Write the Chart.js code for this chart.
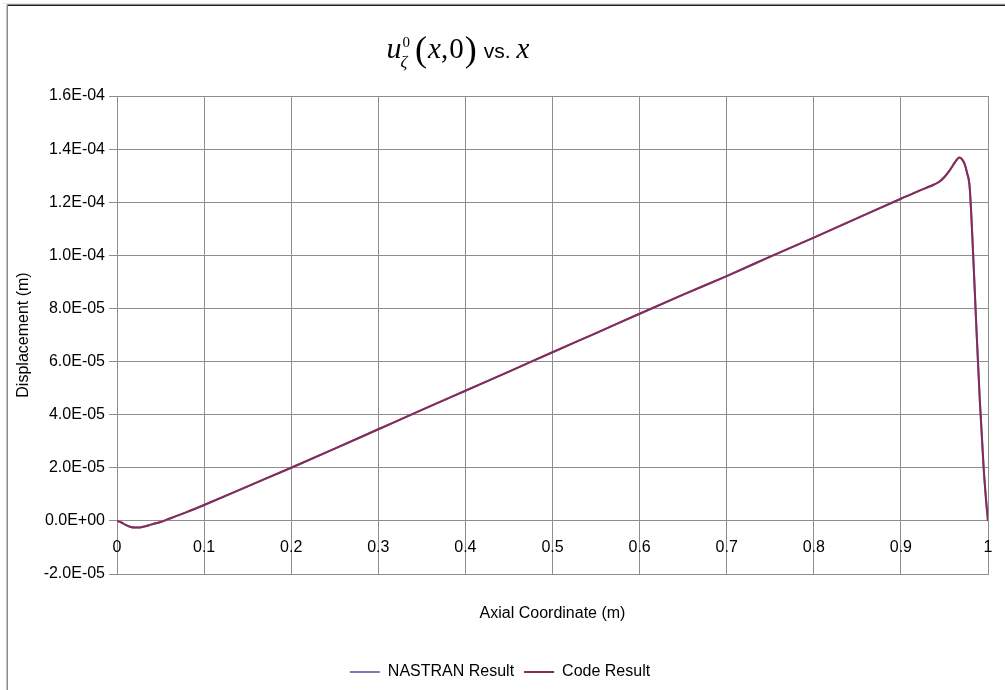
<!DOCTYPE html>
<html>
<head>
<meta charset="utf-8">
<title>Axial displacement</title>
<script src="https://cdn.jsdelivr.net/npm/chart.js@4.4.0/dist/chart.umd.min.js"></script>
<style>
  html, body { margin: 0; padding: 0; background: #fff; }
  #wrap { width: 1005px; height: 690px; position: relative; }
  canvas { display: block; }
</style>
</head>
<body>
<div id="wrap"><canvas id="chart" width="1005" height="690"></canvas></div>
<script>
// Axial coordinate along the member (m)
const axialCoord = [0, 0.005, 0.01, 0.015, 0.02, 0.025, 0.03, 0.04, 0.05, 0.06, 0.08, 0.1,
  0.15, 0.2, 0.25, 0.3, 0.35, 0.4, 0.45, 0.5, 0.55, 0.6, 0.65, 0.7, 0.75, 0.8, 0.85, 0.9,
  0.92, 0.935, 0.944, 0.95, 0.956, 0.963, 0.967, 0.97, 0.973, 0.976, 0.979, 0.983, 0.9865,
  0.9905, 0.995, 0.998, 1.0];

// Displacement u_zeta^0(x,0) in metres, NASTRAN finite-element solution
const nastranResult = [0, -0.06e-5, -0.15e-5, -0.22e-5, -0.25e-5, -0.25e-5, -0.22e-5, -0.13e-5,
  -0.04e-5, 0.08e-5, 0.33e-5, 0.6e-5, 1.3e-5, 2.0e-5, 2.72e-5, 3.45e-5, 4.18e-5, 4.9e-5,
  5.62e-5, 6.35e-5, 7.07e-5, 7.8e-5, 8.52e-5, 9.22e-5, 9.95e-5, 10.67e-5, 11.4e-5, 12.13e-5,
  12.42e-5, 12.62e-5, 12.77e-5, 12.95e-5, 13.2e-5, 13.55e-5, 13.68e-5, 13.62e-5, 13.45e-5,
  13.1e-5, 12.55e-5, 10.0e-5, 7.4e-5, 4.6e-5, 2.0e-5, 0.7e-5, 0];

// Displacement from the analysis code (m)
const codeResult = [0, -0.06e-5, -0.15e-5, -0.22e-5, -0.25e-5, -0.25e-5, -0.22e-5, -0.13e-5,
  -0.04e-5, 0.08e-5, 0.33e-5, 0.6e-5, 1.3e-5, 2.0e-5, 2.72e-5, 3.45e-5, 4.18e-5, 4.9e-5,
  5.62e-5, 6.35e-5, 7.07e-5, 7.8e-5, 8.52e-5, 9.22e-5, 9.95e-5, 10.67e-5, 11.4e-5, 12.13e-5,
  12.42e-5, 12.62e-5, 12.77e-5, 12.95e-5, 13.2e-5, 13.55e-5, 13.68e-5, 13.62e-5, 13.45e-5,
  13.1e-5, 12.55e-5, 10.0e-5, 7.4e-5, 4.6e-5, 2.0e-5, 0.7e-5, 0];

// Axis tick labels
const xTickLabels = ['0', '0.1', '0.2', '0.3', '0.4', '0.5', '0.6', '0.7', '0.8', '0.9', '1'];
const yRange = [-2e-5, 1.6e-4];
const yStep = 2e-5;

const SANS = '"Liberation Sans", Arial, sans-serif';
const SERIF = '"Liberation Serif", "Times New Roman", serif';
const GRID = '#8e8e8e';

function toPoints(xs, ys) {
  return xs.map((x, i) => ({ x: x, y: ys[i] }));
}

// Excel-style scientific label, e.g. 1.6E-04
function sciLabel(v) {
  if (Math.abs(v) < 1e-12) v = 0;
  const parts = v.toExponential(1).split('e');
  const n = parseInt(parts[1], 10);
  return parts[0] + 'E' + (n < 0 ? '-' : '+') + String(Math.abs(n)).padStart(2, '0');
}

// White page with the worksheet frame on the top and left edges
const framePlugin = {
  id: 'frame',
  beforeDraw(chart) {
    const ctx = chart.ctx;
    ctx.save();
    ctx.fillStyle = '#ffffff';
    ctx.fillRect(0, 0, chart.width, chart.height);
    ctx.fillStyle = '#e4e4e4';
    ctx.fillRect(3, 3, chart.width - 3, 1);
    ctx.fillStyle = '#1c1c1c';
    ctx.fillRect(7, 4.5, chart.width - 7, 1.5);
    ctx.fillStyle = '#8a8a8a';
    ctx.fillRect(6.5, 5, 1.5, chart.height - 5);
    ctx.restore();
  }
};

// X tick labels sit just below the zero line, where the category axis crosses
const xLabelPlugin = {
  id: 'xLabels',
  afterDraw(chart) {
    const xs = chart.scales.x, ys = chart.scales.y;
    const ctx = chart.ctx;
    const y0 = ys.getPixelForValue(0) + 27;
    ctx.save();
    ctx.font = '16px ' + SANS;
    ctx.fillStyle = '#000';
    ctx.textAlign = 'center';
    ctx.textBaseline = 'middle';
    xTickLabels.forEach(lbl => {
      ctx.fillText(lbl, xs.getPixelForValue(Number(lbl)), y0);
    });
    ctx.restore();
  }
};

// Title: u_ζ^0(x,0) vs. x
const titlePlugin = {
  id: 'mathTitle',
  afterDraw(chart) {
    const ctx = chart.ctx;
    const base = 58;
    const centerX = 458;
    const pieces = [
      { t: 'u', font: 'italic 30px ' + SERIF, dy: 0, gapAfter: 0 },
      { t: '0', font: '15px ' + SERIF, dy: -11, gapAfter: 0, sup: true },
      { t: 'ζ', font: 'italic 17px ' + SERIF, dy: 9, gapAfter: 5, sub: true },
      { t: '(', font: '36px ' + SERIF, dy: 3, gapAfter: 1 },
      { t: 'x', font: 'italic 29px ' + SERIF, dy: 0, gapAfter: 0 },
      { t: ',', font: '29px ' + SERIF, dy: 0, gapAfter: 1 },
      { t: '0', font: '29px ' + SERIF, dy: 0, gapAfter: 1 },
      { t: ')', font: '36px ' + SERIF, dy: 3, gapAfter: 7 },
      { t: 'vs.', font: '21px ' + SANS, dy: 0, gapAfter: 6 },
      { t: 'x', font: 'italic 29px ' + SERIF, dy: 0, gapAfter: 0 }
    ];
    ctx.save();
    let total = 0;
    const xs = [];
    let scriptStart = 0, scriptW = 0;
    pieces.forEach(p => {
      ctx.font = p.font;
      const w = ctx.measureText(p.t).width;
      if (p.sup) {
        scriptStart = total + 1;
        xs.push(scriptStart);
        scriptW = w;
      } else if (p.sub) {
        xs.push(scriptStart - 2);
        total = Math.max(scriptStart + scriptW, scriptStart - 2 + w) + p.gapAfter;
      } else {
        xs.push(total);
        total += w + p.gapAfter;
      }
    });
    const startX = centerX - total / 2;
    ctx.fillStyle = '#000';
    ctx.textBaseline = 'alphabetic';
    ctx.textAlign = 'left';
    pieces.forEach((p, i) => {
      ctx.font = p.font;
      ctx.fillText(p.t, startX + xs[i], base + p.dy);
    });
    ctx.restore();
  }
};

const ctx = document.getElementById('chart').getContext('2d');
new Chart(ctx, {
  type: 'line',
  data: {
    datasets: [
      {
        label: 'NASTRAN Result',
        data: toPoints(axialCoord, nastranResult),
        borderColor: '#7e7cb8',
        backgroundColor: '#7e7cb8',
        borderWidth: 2,
        pointRadius: 0,
        cubicInterpolationMode: 'monotone',
        fill: false,
        order: 1
      },
      {
        label: 'Code Result',
        data: toPoints(axialCoord, codeResult),
        borderColor: '#862a5a',
        backgroundColor: '#862a5a',
        borderWidth: 2,
        pointRadius: 0,
        cubicInterpolationMode: 'monotone',
        fill: false,
        order: 0
      }
    ]
  },
  options: {
    responsive: false,
    animation: false,
    devicePixelRatio: 1,
    events: [],
    layout: { padding: { left: 12, right: 17, top: 96, bottom: 0 } },
    plugins: {
      title: { display: false },
      tooltip: { enabled: false },
      legend: {
        display: true,
        position: 'bottom',
        labels: {
          font: { family: SANS, size: 16 },
          color: '#000',
          boxWidth: 30,
          boxHeight: 2,
          padding: 10,
          sort: (a, b) => a.datasetIndex - b.datasetIndex,
          generateLabels: chart =>
            Chart.defaults.plugins.legend.labels.generateLabels(chart)
              .map(l => Object.assign(l, { lineWidth: 0 }))
        }
      }
    },
    scales: {
      x: {
        type: 'linear',
        min: 0,
        max: 1,
        ticks: { display: false, stepSize: 0.1 },
        grid: { color: GRID, lineWidth: 1, drawTicks: false },
        border: { color: GRID, width: 1 },
        title: {
          display: true,
          text: 'Axial Coordinate (m)',
          color: '#000',
          font: { family: SANS, size: 16 },
          padding: { top: 0, bottom: 31 }
        },
        afterFit(scale) { scale.height = 80; }
      },
      y: {
        type: 'linear',
        min: yRange[0],
        max: yRange[1],
        ticks: {
          stepSize: yStep,
          color: '#000',
          font: { family: SANS, size: 16 },
          padding: 4,
          callback: v => sciLabel(v)
        },
        grid: { color: GRID, lineWidth: 1, tickLength: 8 },
        border: { color: GRID, width: 1 },
        title: {
          display: true,
          text: 'Displacement (m)',
          color: '#000',
          font: { family: SANS, size: 16 },
          padding: { top: 2, bottom: 0 }
        },
        afterFit(scale) { scale.width = 105; }
      }
    }
  },
  plugins: [framePlugin, xLabelPlugin, titlePlugin]
});
</script>
</body>
</html>
